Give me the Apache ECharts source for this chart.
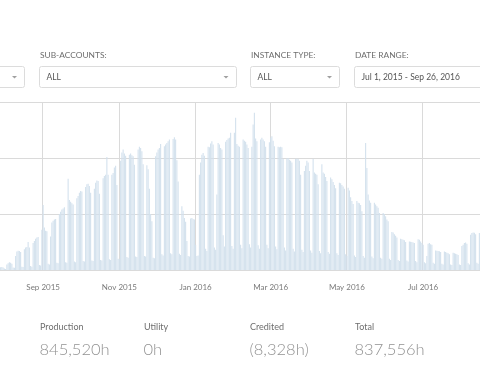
<!DOCTYPE html>
<html><head><meta charset="utf-8">
<script src="https://cdn.jsdelivr.net/npm/echarts@6/dist/echarts.min.js"></script>
<style>html,body{margin:0;padding:0;background:#fff;overflow:hidden}#c{width:480px;height:379px}</style>
</head><body><div id="c"></div>
<script>
// first visible day of the daily series
const startDate = '2015-07-29';
// daily instance hours, by month
const jul2015 = [50,55,45];
const aug2015 = [25,20,100,120,140,130,110,45,40,250,330,345,340,320,60,55,370,400,410,500,400,70,60,480,520,560,580,590,90,80,720];
const sep2015 = [1160,760,700,690,110,100,600,850,880,900,910,130,120,1000,1040,1080,1100,1120,140,130,1630,1250,1220,1190,1170,150,140,1280,1320,1380];
const oct2015 = [1410,1400,160,150,1480,1530,1540,1500,1380,170,160,1450,1560,1600,1590,1360,180,170,1640,1680,1700,2020,1700,190,180,1700,1730,1830,1860,1520,200];
const nov2015 = [190,1950,2100,2150,2080,2040,230,220,2060,2080,2050,2030,1880,240,230,2150,2200,2180,2120,1890,250,240,1870,1800,1450,1000,870,220,210,2030];
const dec2015 = [2100,2150,2180,2250,280,260,2210,2240,2270,2300,2330,300,280,2340,2370,2330,1960,1580,290,270,1140,1060,930,860,520,250,240,920,930,910,900];
const jan2016 = [450,250,260,1700,1920,2060,2090,2040,380,340,2200,2190,2260,2300,2240,400,360,1350,2270,2240,2180,2150,620,420,2290,2320,2350,2360,2450,430,380];
const feb2016 = [2450,2720,2250,2220,2200,450,390,2330,2310,2290,2240,2180,460,400,2200,2600,2810,2350,2300,440,380,2330,2360,2330,2300,2200,450,390,2280];
const mar2016 = [2360,2390,2310,2210,420,370,2200,2190,2200,2190,1980,400,350,1990,2000,1970,1950,1920,380,330,1980,1990,1980,1950,1700,360,320,1770,1860,1950,1920];
const apr2016 = [1770,350,310,1980,1740,1720,1700,1530,340,300,1890,1740,1720,1660,1590,320,290,1650,1620,1570,1520,1460,300,270,1560,1550,1520,1490,1450,280];
const may2016 = [250,1470,1420,1300,1230,1180,260,230,1230,1200,1190,1160,1050,250,220,2270,1820,1350,1240,1200,240,210,1200,1170,1140,1110,1020,220,200,1020,1000];
const jun2016 = [960,900,870,200,180,680,670,640,610,580,180,160,560,550,540,530,500,170,150,510,505,500,490,480,160,140,550,540,510,480];
const jul2016 = [450,140,120,250,470,480,460,450,130,110,350,345,340,335,320,110,100,330,320,310,300,280,100,90,310,300,290,280,270,100,90];
const aug2016 = [430,450,480,490,470,120,100,630,660,670,665,640,130,110,660];

const tickDates = ['2015-09-01','2015-11-01','2016-01-01','2016-03-01','2016-05-01','2016-07-01'];
const tickLabels = ['Sep 2015','Nov 2015','Jan 2016','Mar 2016','May 2016','Jul 2016'];

const filterLabels = ['SUB-ACCOUNTS:','INSTANCE TYPE:','DATE RANGE:'];
const filterValues = ['ALL','ALL','Jul 1, 2015 - Sep 26, 2016'];
const statLabels = ['Production','Utility','Credited','Total'];
const statValues = ['845,520h','0h','(8,328h)','837,556h'];

const values = [].concat(jul2015,aug2015,sep2015,oct2015,nov2015,dec2015,jan2016,feb2016,mar2016,apr2016,may2016,jun2016,jul2016,aug2016);
const categories = [];
{
  const d0 = new Date(startDate + 'T00:00:00Z');
  for (let i = 0; i < values.length; i++) {
    const d = new Date(d0.getTime() + i * 86400000);
    categories.push(d.toISOString().slice(0,10));
  }
}
const isTick = (idx, val) => tickDates.indexOf(val) >= 0;

const FONT = 'Lato, "Source Sans Pro", "Open Sans", sans-serif';
const graphics = [];
function box(x, w, label, value, caretX) {
  graphics.push({type:'rect', shape:{x:x, y:66.5, width:w, height:21, r:2}, style:{fill:'#fff', stroke:'#dcdcdc', lineWidth:1}});
  if (caretX !== undefined) {
    graphics.push({type:'polygon', shape:{points:[[caretX-2.5,76],[caretX+2.5,76],[caretX,78.5]]}, style:{fill:'#a0a0a0'}});
  }
  if (label) graphics.push({type:'text', x:x+0.5, y:55.5, style:{text:label, fontSize:8.4, fontFamily:FONT, fill:'#6e6e6e', verticalAlign:'middle'}});
  if (value) graphics.push({type:'text', x:x+7, y:77, style:{text:value, fontSize:8.5, fontFamily:FONT, fill:'#555', verticalAlign:'middle'}});
}
box(-10.5, 35, null, null, 14.5);
box(39.5, 197, filterLabels[0], filterValues[0], 226);
box(250.5, 89, filterLabels[1], filterValues[1], 329.5);
box(354.5, 140, filterLabels[2], filterValues[2]);
const statX = [40, 144, 250, 355];
statLabels.forEach((s, i) => {
  graphics.push({type:'text', x:statX[i], y:327, style:{text:s, fontSize:9, fontFamily:FONT, fill:'#6e6e6e', verticalAlign:'middle'}});
  graphics.push({type:'text', x:statX[i]-0.5, y:350, style:{text:statValues[i], fontSize:16.5, fontWeight:300, fontFamily:FONT, fill:'#929292', verticalAlign:'middle'}});
});

const chart = echarts.init(document.getElementById('c'), null, {renderer:'canvas'});
chart.setOption({
  animation: false,
  grid: {left: 0, top: 102, width: 481, height: 168, containLabel: false},
  xAxis: {
    type: 'category', data: categories, boundaryGap: true,
    axisLine: {show: true, lineStyle: {color: '#dadada'}},
    axisTick: {show: false},
    axisLabel: {interval: isTick, margin: 13, fontSize: 8, fontFamily: FONT, color: '#7a7a7a',
      formatter: v => tickLabels[tickDates.indexOf(v)] || ''},
    splitLine: {show: true, interval: isTick, lineStyle: {color: '#dadada', width: 1}}
  },
  yAxis: {
    type: 'value', min: 0, max: 3000, interval: 1000,
    axisLabel: {show: false}, axisLine: {show: false}, axisTick: {show: false},
    splitLine: {lineStyle: {color: '#dadada', width: 1}}
  },
  series: [{
    type: 'bar', data: values, barCategoryGap: '15%',
    itemStyle: {color: '#d2e0ed'}, silent: true
  }],
  graphic: graphics
});
</script></body></html>
